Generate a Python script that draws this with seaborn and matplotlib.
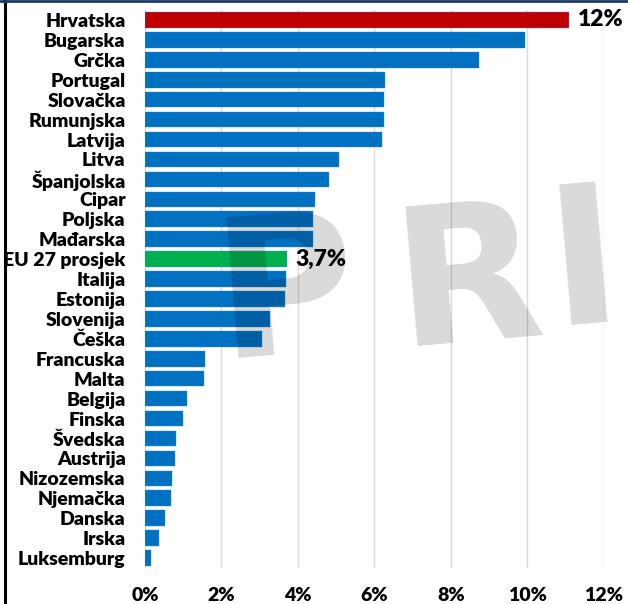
import matplotlib
matplotlib.use("Agg")
import matplotlib.pyplot as plt
from matplotlib.lines import Line2D
import seaborn as sns
import pandas as pd

countries = ["Hrvatska", "Bugarska", "Grčka", "Portugal", "Slovačka", "Rumunjska",
             "Latvija", "Litva", "Španjolska", "Cipar", "Poljska", "Mađarska",
             "EU 27 prosjek", "Italija", "Estonija", "Slovenija", "Češka",
             "Francuska", "Malta", "Belgija", "Finska", "Švedska", "Austrija",
             "Nizozemska", "Njemačka", "Danska", "Irska", "Luksemburg"]
values = [11.1, 9.95, 8.75, 6.27, 6.26, 6.25, 6.21, 5.08, 4.81, 4.46, 4.40, 4.39,
          3.72, 3.70, 3.67, 3.28, 3.06, 1.57, 1.55, 1.11, 0.99, 0.80, 0.78,
          0.71, 0.69, 0.52, 0.37, 0.16]
highlight_labels = {"Hrvatska": "12%", "EU 27 prosjek": "3,7%"}
xticks = [0, 2, 4, 6, 8, 10, 12]

BLUE = "#0070C0"
RED = "#C00000"
GREEN = "#00B050"

df = pd.DataFrame({"country": countries, "value": values})
colors = {c: BLUE for c in countries}
colors["Hrvatska"] = RED
colors["EU 27 prosjek"] = GREEN

sns.set_theme(style="white")
plt.rcParams["font.family"] = ["Lato", "DejaVu Sans"]
plt.rcParams["font.weight"] = "bold"

fig = plt.figure(figsize=(6.28, 6.04), dpi=100)
ax = fig.add_axes([0.2309, 0.0596, 0.7304, 0.9238])

sns.barplot(data=df, y="country", x="value", hue="country", palette=colors,
            orient="h", width=0.78, legend=False, ax=ax, zorder=2,
            saturation=1, edgecolor="#3d8fd6", linewidth=0.3)

ax.set_xlim(0, 12)
ax.set_ylim(len(countries) - 0.5, -0.5)
ax.set_xticks(xticks)
ax.set_xticklabels([f"{t}%" for t in xticks])
ax.grid(axis="x", color="#d9d9d9", linewidth=1, zorder=0)
ax.set_axisbelow(True)
for s in ax.spines.values():
    s.set_visible(False)
ax.set_xlabel("")
ax.set_ylabel("")
ax.tick_params(axis="y", length=0, pad=14, labelsize=14)
ax.tick_params(axis="x", length=0, pad=14, labelsize=14)
for lbl in ax.get_xticklabels() + ax.get_yticklabels():
    lbl.set_fontweight("heavy")
    lbl.set_color("black")

for i, c in enumerate(countries):
    if c in highlight_labels:
        ax.annotate(highlight_labels[c], (values[i], i), xytext=(6, 0),
                    textcoords="offset points", va="center", ha="left",
                    fontsize=16.5, fontweight="heavy", color="black",
                    annotation_clip=False, zorder=5)

# watermark
for letter, (x, y) in zip("PRI", [(0.455, 0.505), (0.745, 0.526), (0.930, 0.556)]):
    fig.text(x, y, letter, fontsize=138, fontweight="bold", color="black",
             alpha=0.15, ha="center", va="center", rotation=5,
             family="DejaVu Sans", zorder=10)

# frame lines
fig.add_artist(Line2D([0.008, 0.008], [0, 1], color="black", linewidth=2.2))
fig.add_artist(Line2D([0, 1], [0.999, 0.999], color="#1f3864", linewidth=2))

fig.savefig("out.png", dpi=100)
